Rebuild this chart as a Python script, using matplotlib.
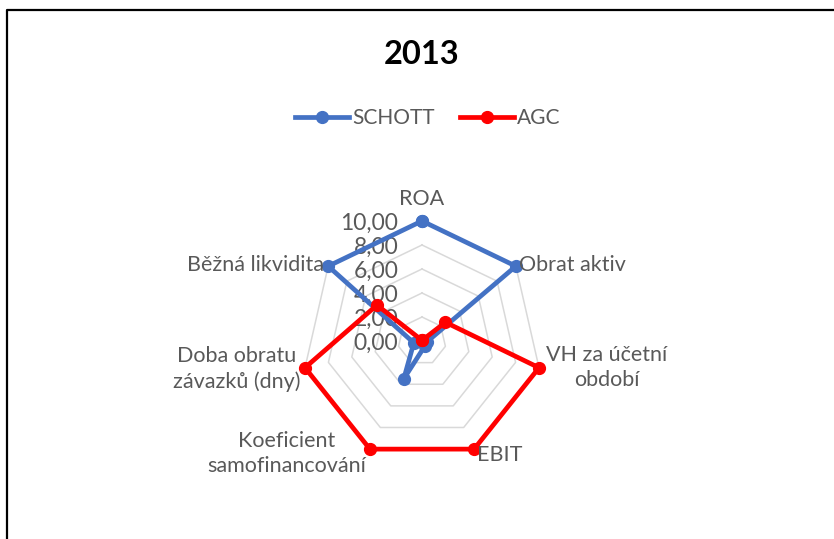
import numpy as np
import matplotlib.pyplot as plt
from matplotlib.lines import Line2D

plt.rcParams['font.family'] = ['Lato', 'DejaVu Sans']

# chart data (values are scaled so the best company gets 10)
CATEGORIES = ['ROA', 'Obrat aktiv', 'VH za účetní\nobdobí', 'EBIT',
              'Koeficient\nsamofinancování', 'Doba obratu\nzávazků (dny)',
              'Běžná likvidita']
SCHOTT = [10.0, 10.0, 0.4, 0.5, 3.5, 0.7, 10.0]
AGC = [0.05, 2.5, 10.0, 10.0, 10.0, 10.0, 4.8]
RING_VALUES = [0, 2, 4, 6, 8, 10]
TITLE = '2013'

TEXT_COLOR = '#595959'
BLUE = '#4472C4'
RED = '#FF0000'

# label placement for each category: (offset x, offset y in points, ha)
LABEL_OFFSETS = [
    (0, 15.5, 'center'),
    (2, 0.5, 'left'),
    (5, 0, 'left'),
    (2, -4, 'left'),
    (-3, -3, 'right'),
    (-3, -1, 'right'),
    (-3, 1, 'right'),
]


def close(values):
    return list(values) + [values[0]]


def main():
    fig = plt.figure(figsize=(8.34, 5.39), dpi=100)
    ax = fig.add_axes([0.3621, 0.1447, 0.2878, 0.4453], projection='polar')
    ax.set_theta_offset(np.pi / 2)
    ax.set_theta_direction(-1)

    n = len(CATEGORIES)
    angles = np.linspace(0, 2 * np.pi, n, endpoint=False)
    angles_c = close(angles)

    ax.set_ylim(0, 10)
    ax.set_xticks([])
    ax.set_yticks([])
    ax.grid(False)
    ax.spines['polar'].set_visible(False)
    ax.patch.set_visible(False)

    # heptagon rings
    for v in RING_VALUES[1:]:
        ax.plot(angles_c, [v] * (n + 1), color='#D9D9D9', lw=1.1, zorder=1, clip_on=False)

    # radial value labels
    for v in RING_VALUES:
        ax.annotate(f'{v:.2f}'.replace('.', ','), xy=(0, v), xytext=(-17, -1.5),
                    textcoords='offset points', ha='right', va='center',
                    color=TEXT_COLOR, fontsize=16.5, zorder=2)

    ax.plot(angles_c, close(SCHOTT), color=BLUE, lw=3.4, marker='o', ms=8.5,
            zorder=3, clip_on=False, label='SCHOTT')
    ax.plot(angles_c, close(AGC), color=RED, lw=3.4, marker='o', ms=8.5,
            zorder=4, clip_on=False, label='AGC')

    # category labels
    for ang, name, (dx, dy, ha) in zip(angles, CATEGORIES, LABEL_OFFSETS):
        ax.annotate(name, xy=(ang, 10), xytext=(dx, dy), textcoords='offset points',
                    ha=ha, va='center', multialignment='center',
                    color=TEXT_COLOR, fontsize=15.5, zorder=5, linespacing=1.3)

    handles = [
        Line2D([], [], color=BLUE, lw=3.4, marker='o', ms=8.5),
        Line2D([], [], color=RED, lw=3.4, marker='o', ms=8.5),
    ]
    fig.legend(handles, ['SCHOTT', 'AGC'], loc='center', bbox_to_anchor=(428 / 834, 1 - 118 / 539),
               ncol=2, frameon=False, fontsize=15, handlelength=2.6, handletextpad=0.15,
               columnspacing=1.2, labelcolor=TEXT_COLOR)

    fig.text(422 / 834, 1 - 54 / 539, TITLE, ha='center', va='center',
             fontsize=23.5, fontweight='bold', color='black')

    # chart border (only top and left visible in the picture)
    fig.add_artist(Line2D([6.5 / 834, 6.5 / 834, 1.0], [0, 1 - 10 / 539, 1 - 10 / 539],
                          color='black', lw=1.6, transform=fig.transFigure))

    fig.savefig('out.png', dpi=100)
    plt.close()


if __name__ == '__main__':
    main()
